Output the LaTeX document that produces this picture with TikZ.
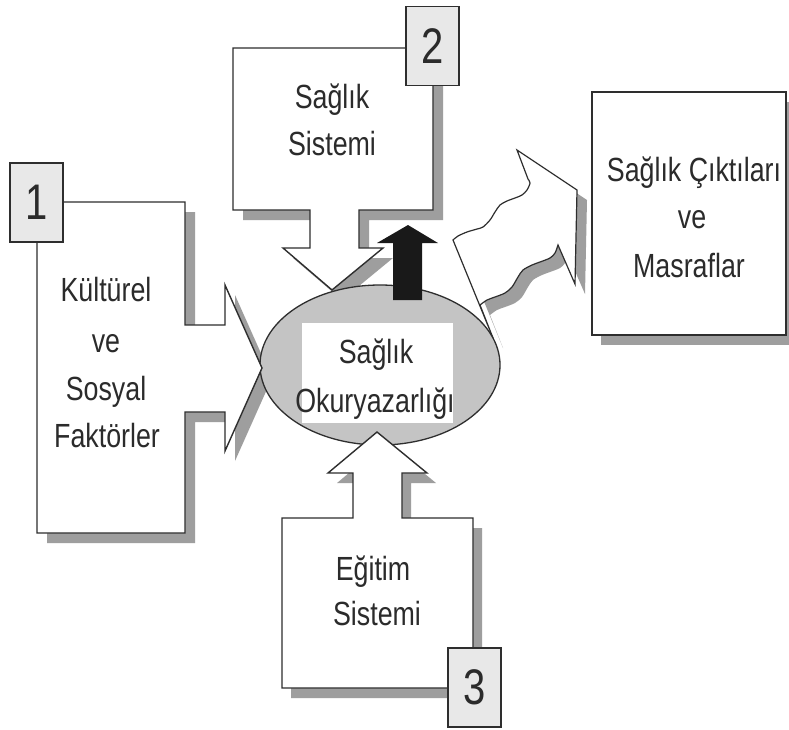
\documentclass[tikz,border=0pt]{standalone}
\usepackage{fontspec}
\setmainfont{Liberation Sans}[FakeStretch=0.8]
\definecolor{linec}{gray}{0.18}
\definecolor{textc}{gray}{0.17}
\definecolor{shadowc}{gray}{0.62}
\definecolor{ellc}{gray}{0.77}
\definecolor{numc}{gray}{0.91}
\def\boxA{(37,202) -- (185,202) -- (185,325) -- (225,325) -- (225,285) -- (262,368) -- (225,451) -- (225,412) -- (185,412) -- (185,533) -- (37,533) -- cycle}
\def\boxB{(233,48) -- (433,48) -- (433,210) -- (359,210) -- (359,248) -- (383,248) -- (332,290) -- (283,248) -- (310,248) -- (310,210) -- (233,210) -- cycle}
\def\boxC{(282,518) -- (353,518) -- (353,473) -- (328,473) -- (377,432) -- (427,473) -- (402,473) -- (402,518) -- (473,518) -- (473,688) -- (282,688) -- cycle}
\def\boxD{(592,92) rectangle (786,335)}
\def\wavyarrow{(453,240) -- plot[smooth, tension=0.5] coordinates {(453,240) (458,236) (467,232) (477,229) (483,227) (490,220) (495,212) (500,205) (507,201) (515,198) (522,195) (527,190) (530,183) (528,179)} -- (517,150) -- (577,190) -- (575,284) -- (558,245) -- plot[smooth, tension=0.5] coordinates {(558,245) (555,253) (550,258) (540,262) (532,265) (523,270) (518,277) (512,287) (505,293) (495,297) (487,300) (480,305)} -- (493,338) -- cycle}
\begin{document}
\begin{tikzpicture}[x=1pt,y=-1pt,
  outline/.style={draw=linec, line width=1.4pt, fill=white, line join=miter},
  shade/.style={fill=shadowc, draw=none},
  numbox/.style={draw=linec, line width=1.4pt, fill=numc, minimum width=53pt, minimum height=79pt, inner sep=0pt, text=textc, font=\fontsize{50}{50}\selectfont},
  lbl/.style={anchor=base, inner sep=0pt, text=textc, font=\fontsize{33.5}{40}\selectfont}]
\clip (0,0) rectangle (789,729);
\fill[white] (0,0) rectangle (789,729);
% wavy arrow toward outcomes
\fill[shade, shift={(10,10)}] \wavyarrow;
\draw[outline, line width=1.2pt] \wavyarrow;
% shadows
\fill[shade, shift={(10,10)}] \boxA;
\fill[shade, shift={(10,10)}] \boxB;
\fill[shade, shift={(9,10)}] \boxC;
\fill[shade, shift={(9,10)}] \boxD;
% central ellipse
\draw[fill=ellc, draw=linec, line width=1.3pt] (380,365) ellipse [x radius=120, y radius=80];
% boxes
\draw[outline] \boxA;
\draw[outline] \boxB;
\draw[outline] \boxC;
\draw[outline] \boxD;
% black arrow
\fill[black!90] (393,300) -- (393,243) -- (377,243) -- (408,225) -- (438,243) -- (422,243) -- (422,300) -- cycle;
% label area in ellipse
\fill[white] (302,323) rectangle (453,423);
% number boxes
\node[numbox] (n1) at (36.5,202.5) {1};
\node[numbox] (n2) at (432.5,46) {2};
\node[numbox] (n3) at (474.5,687.5) {3};
% texts
\node[lbl] (a1) at (106,301) {Kültürel};
\node[lbl] (a2) at (106,352) {ve};
\node[lbl] (a3) at (106,400) {Sosyal};
\node[lbl] (a4) at (107,447) {Faktörler};
\node[lbl] (b1) at (332,108) {Sağlık};
\node[lbl] (b2) at (332,155) {Sistemi};
\node[lbl] (e1) at (376,363) {Sağlık};
\node[lbl] (e2) at (375,412) {Okuryazarlığı};
\node[lbl] (c1) at (373,580) {Eğitim};
\node[lbl] (c2) at (377,625) {Sistemi};
\node[lbl] (d1) at (694,181) {Sağlık Çıktıları};
\node[lbl] (d2) at (692,228) {ve};
\node[lbl] (d3) at (689,277) {Masraflar};
\end{tikzpicture}
\end{document}
